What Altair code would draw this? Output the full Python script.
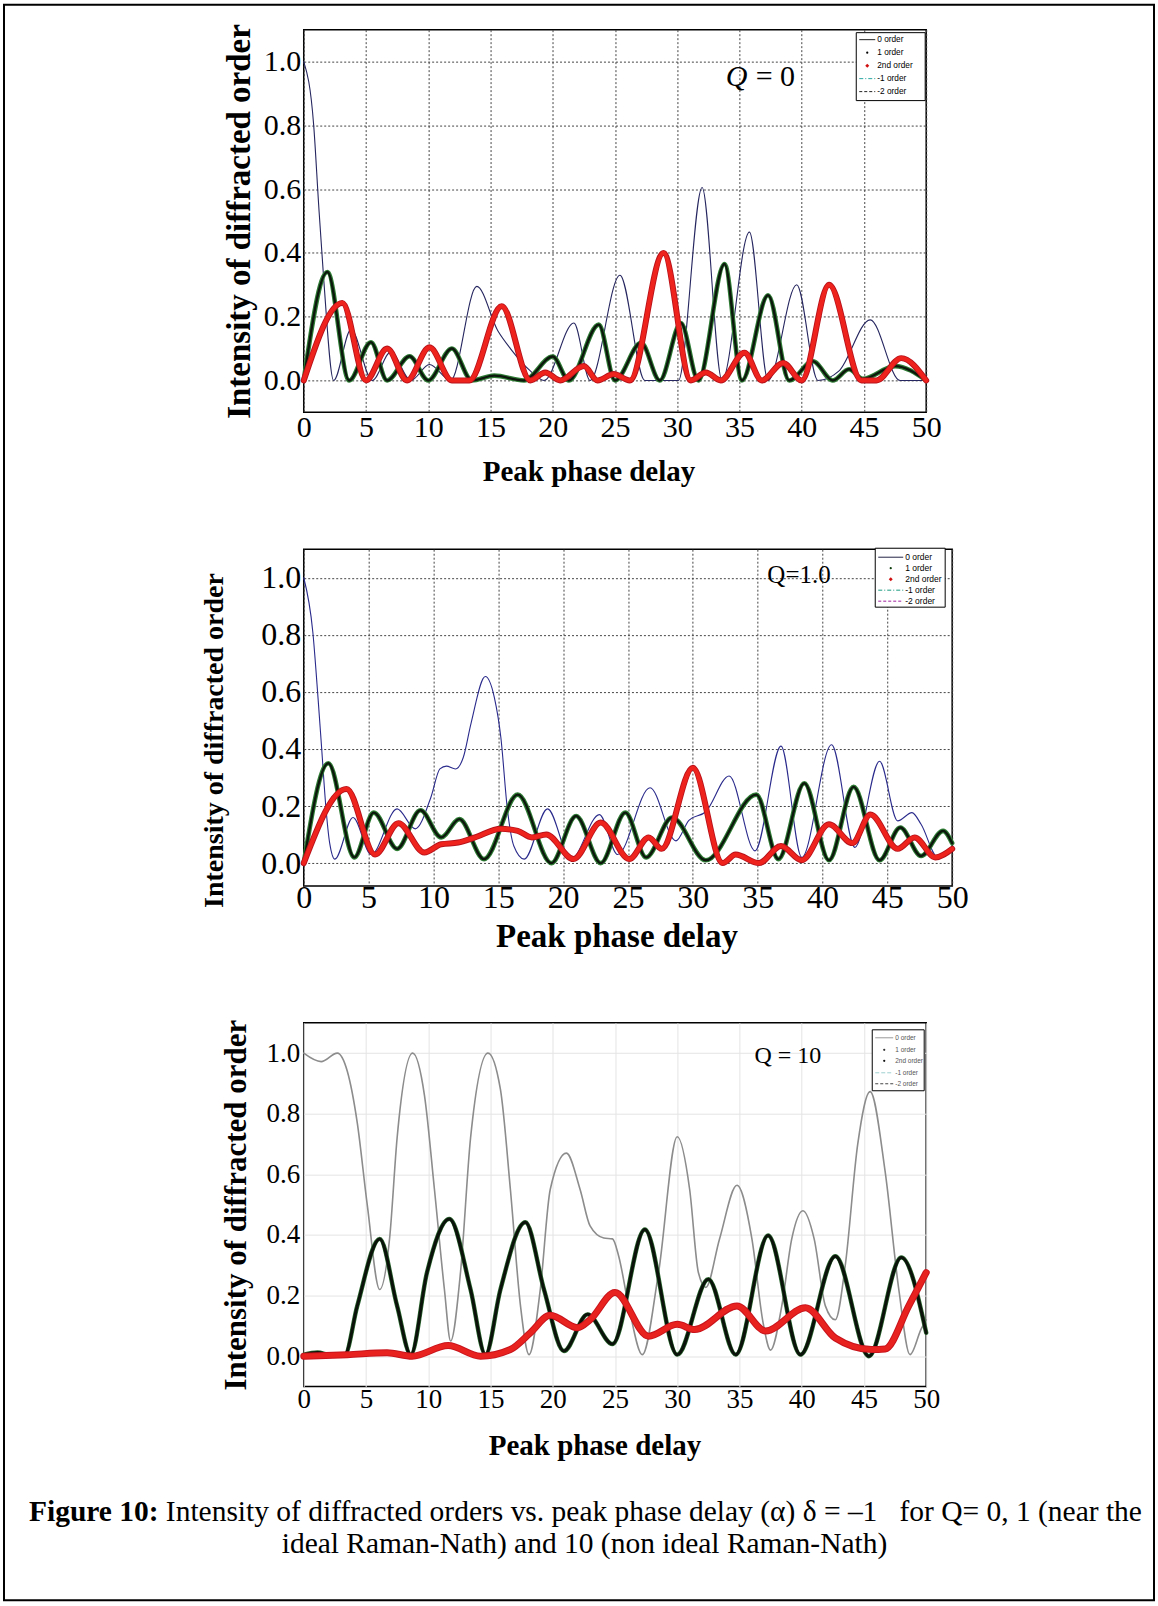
import altair as alt
import pandas as pd

SERIF = "Liberation Serif"
SANS = "Liberation Sans"

X_TICKS = [0, 5, 10, 15, 20, 25, 30, 35, 40, 45, 50]
Y_TICKS = [0.0, 0.2, 0.4, 0.6, 0.8, 1.0]
X_TITLE = "Peak phase delay"
Y_TITLE = "Intensity of diffracted order"
LEGEND_LABELS = ["0 order", "1 order", "2nd order", "-1 order", "-2 order"]
CAPTION_BOLD = "Figure 10:"
CAPTION_LINE1 = "Intensity of diffracted orders vs. peak phase delay (\u03b1) \u03b4 = \u20131\u00a0\u00a0\u00a0for Q= 0, 1 (near the"
CAPTION_LINE2 = "ideal Raman-Nath) and 10 (non ideal Raman-Nath)"

# ---------------- Panel 1 : Q = 0 ----------------
P1_O0_X = [0, 0.8, 1.2, 1.6, 2.4, 3.8, 5.5, 7.0, 8.6, 10.1, 11.8, 13.9, 15.6, 16.6, 18.2, 19.3, 21.7, 23.0, 25.4, 27.4,
           30.1, 32.0, 33.6, 35.8, 37.3, 39.6, 41.3, 43.0, 45.5, 47.9, 50]
P1_O0_Y = [1.0, 0.80, 0.55, 0.32, 0.0, 0.16, 0.0, 0.09, 0.0, 0.05, 0.0, 0.295, 0.155, 0.10, 0.03, 0.0, 0.18, 0.0, 0.33, 0.0,
           0.0, 0.605, 0.0, 0.465, 0.0, 0.30, 0.0, 0.03, 0.19, 0.0, 0.0]
P1_O1_X = [0, 1.9, 3.65, 5.4, 6.7, 8.5, 10.0, 11.9, 13.5, 15.3, 17.7, 20.0, 21.3, 23.7, 25.0, 27.1, 28.6, 30.3, 31.7, 33.8,
           35.2, 37.3, 39.0, 40.9, 42.5, 43.8, 44.9, 47.5, 50]
P1_O1_Y = [0, 0.34, 0.0, 0.12, 0.0, 0.076, 0.0, 0.10, 0.0, 0.015, 0.0, 0.075, 0.0, 0.175, 0.0, 0.118, 0.0, 0.18, 0.0, 0.365,
           0.0, 0.267, 0.0, 0.06, 0.0, 0.035, 0.005, 0.045, 0.0]
P1_O2_X = [0, 3.1, 5.0, 6.7, 8.3, 10.1, 11.9, 13.3, 15.9, 18.2, 19.4, 20.6, 22.5, 23.6, 24.9, 26.2, 28.9, 31.1, 32.3, 33.5,
           35.4, 36.8, 38.5, 40.0, 42.2, 44.8, 46.0, 48.0, 50]
P1_O2_Y = [0, 0.243, 0.0, 0.10, 0.0, 0.104, 0.0, 0.0, 0.233, 0.0, 0.025, 0.0, 0.045, 0.0, 0.02, 0.0, 0.40, 0.0, 0.025, 0.0,
           0.087, 0.0, 0.055, 0.0, 0.30, 0.0, 0.0, 0.07, 0.0]

# ---------------- Panel 2 : Q = 1.0 ----------------
P2_O0_X = [0, 0.7, 1.1, 1.4, 1.7, 2.0, 2.4, 3.8, 5.2, 7.2, 8.6, 9.8, 10.5, 11.0, 11.7, 12.3, 12.9, 14.0, 14.7, 15.2,
           15.7, 16.2, 17.0, 18.8, 20.6, 22.8, 24.2, 26.7, 28.7, 29.7, 31.0, 32.8, 34.8, 36.8, 38.4, 40.7, 42.5, 44.4,
           45.8, 46.9, 47.6, 48.9, 50]
P2_O0_Y = [1.0, 0.81, 0.58, 0.39, 0.2, 0.07, 0.014, 0.16, 0.03, 0.19, 0.12, 0.23, 0.33, 0.34, 0.33, 0.37, 0.49, 0.654,
           0.58, 0.44, 0.19, 0.06, 0.014, 0.19, 0.014, 0.17, 0.03, 0.264, 0.078, 0.15, 0.18, 0.305, 0.043, 0.41, 0.02,
           0.415, 0.055, 0.357, 0.148, 0.177, 0.136, 0.02, 0.05]
P2_O1_X = [0, 1.9, 3.9, 5.4, 7.2, 9.0, 10.6, 12.0, 13.9, 16.5, 19.1, 21.0, 22.9, 24.8, 26.4, 28.4, 31.0, 34.9, 36.6,
           38.6, 40.5, 42.4, 44.4, 46.0, 47.6, 49.3, 50]
P2_O1_Y = [0, 0.35, 0.02, 0.177, 0.05, 0.185, 0.09, 0.154, 0.014, 0.24, 0.0, 0.165, 0.0, 0.177, 0.02, 0.16, 0.01, 0.24,
           0.014, 0.28, 0.01, 0.267, 0.01, 0.125, 0.025, 0.113, 0.07]
P2_O2_X = [0, 3.3, 5.5, 7.3, 9.3, 10.6, 11.9, 13.2, 15.2, 16.5, 17.6, 18.7, 20.8, 22.9, 25.1, 26.6, 27.6, 30.0, 32.3,
           33.3, 35.1, 36.8, 38.4, 40.5, 42.3, 43.7, 45.8, 47.1, 48.7, 50]
P2_O2_Y = [0, 0.26, 0.03, 0.14, 0.037, 0.066, 0.072, 0.09, 0.12, 0.113, 0.09, 0.10, 0.014, 0.142, 0.014, 0.09, 0.05,
           0.334, 0.0, 0.03, 0.0, 0.06, 0.01, 0.136, 0.07, 0.17, 0.05, 0.09, 0.02, 0.05]

# ---------------- Panel 3 : Q = 10 ----------------
P3_O0_X = [0, 1.4, 2.7, 3.5, 4.3, 5.1, 6.1, 6.9, 7.5, 8.75, 9.7, 10.5, 11.3, 11.8, 12.6, 13.4, 14.8, 15.8, 16.6, 17.4,
           18.1, 19.0, 19.8, 21.1, 22.2, 23.0, 24.1, 24.8, 25.3, 26.1, 27.2, 28.5, 30.0, 31.0, 31.7, 32.3, 33.4, 34.8,
           36.0, 36.9, 37.5, 38.4, 39.2, 40.1, 41.0, 41.9, 42.7, 43.5, 44.5, 45.5, 46.7, 47.8, 48.7, 49.6, 50]
P3_O0_Y = [1.0, 0.972, 1.0, 0.94, 0.77, 0.50, 0.22, 0.39, 0.72, 1.0, 0.86, 0.55, 0.22, 0.05, 0.28, 0.72, 1.0, 0.88,
           0.55, 0.17, 0.005, 0.22, 0.55, 0.67, 0.55, 0.43, 0.39, 0.387, 0.33, 0.166, 0.005, 0.276, 0.724, 0.55, 0.276,
           0.227, 0.387, 0.564, 0.387, 0.11, 0.02, 0.166, 0.387, 0.48, 0.387, 0.166, 0.12, 0.3, 0.7, 0.873, 0.61, 0.22,
           0.005, 0.09, 0.12]
P3_O1_X = [0, 1.1, 2.2, 3.3, 4.3, 6.1, 7.5, 8.6, 9.9, 11.7, 13.4, 14.6, 15.8, 17.8, 19.3, 20.9, 22.8, 24.8, 27.4, 30.0,
           32.5, 34.7, 37.3, 39.9, 42.7, 45.4, 48.0, 50]
P3_O1_Y = [0.005, 0.012, 0.004, 0.005, 0.166, 0.387, 0.166, 0.005, 0.276, 0.453, 0.22, 0.005, 0.22, 0.442, 0.22, 0.017,
           0.138, 0.04, 0.418, 0.005, 0.254, 0.005, 0.398, 0.005, 0.33, 0.0, 0.326, 0.077]
P3_O2_X = [0, 3.5, 6.7, 8.7, 11.6, 14.2, 16.6, 18.2, 19.8, 22.0, 23.0, 25.0, 27.7, 30.0, 31.4, 34.8, 37.1, 40.3, 42.7,
           45.6, 46.7, 48.6, 50]
P3_O2_Y = [0, 0.005, 0.011, 0.0, 0.035, 0.0, 0.022, 0.077, 0.135, 0.094, 0.12, 0.21, 0.066, 0.105, 0.088, 0.166, 0.083,
           0.16, 0.06, 0.022, 0.024, 0.166, 0.276]

ONE = pd.DataFrame({"k": [0]})


def px_rule(x1, x2, y, color, width=1.0, dash=None):
    kw = dict(color=color, strokeWidth=width)
    if dash:
        kw["strokeDash"] = dash
    return alt.Chart(ONE).mark_rule(**kw).encode(x=alt.value(x1), x2=alt.value(x2), y=alt.value(y))


def px_point(x, y, color, shape, size):
    return alt.Chart(ONE).mark_point(filled=True, shape=shape, size=size, color=color, opacity=1).encode(
        x=alt.value(x), y=alt.value(y))


def px_text(x, y, text, size, font=SERIF, weight="normal", style="normal", align="left", color="black"):
    return alt.Chart(pd.DataFrame({"t": [text]})).mark_text(
        align=align, baseline="middle", font=font, fontSize=size, fontWeight=weight, fontStyle=style, color=color
    ).encode(x=alt.value(x), y=alt.value(y), text="t:N")


def px_rect(x1, x2, y1, y2, stroke, width, fill="white", fill_opacity=1.0):
    return alt.Chart(ONE).mark_rect(fill=fill, fillOpacity=fill_opacity, stroke=stroke, strokeWidth=width).encode(
        x=alt.value(x1), x2=alt.value(x2), y=alt.value(y1), y2=alt.value(y2))


def legend(x1, x2, y1, y2, rows, sx1, sx2, tx, fsize, styles, text_color="black"):
    layers = [px_rect(x1, x2, y1, y2, "black", 1)]
    mid = (sx1 + sx2) / 2
    for label, (kind, color, dash), y in zip(LEGEND_LABELS, styles, rows):
        if kind == "line":
            layers.append(px_rule(sx1, sx2, y, color, 1, dash))
        elif kind == "dot":
            layers.append(px_point(mid, y, color, "circle", 5))
        elif kind == "star":
            layers.append(px_point(mid, y, color, "diamond", 16))
        layers.append(px_text(tx, y, label, fsize, font=SANS, color=text_color))
    return layers


def axes(xlab, xtitle, xlabpad, xext, xtitlepad, xtitlex, ylab, ytitle, ylabpad, yext, ytitlepad,
         grid_color, grid_dash, ytitley=None):
    gx = dict(grid=True, gridColor=grid_color, gridWidth=1, gridOpacity=1)
    if grid_dash:
        gx["gridDash"] = grid_dash
    common = dict(ticks=False, tickSize=0, domain=False, labelFont=SERIF, labelColor="black", labelFlush=False,
                  labelOverlap=False, titleFont=SERIF, titleFontWeight="bold", titleColor="black", **gx)
    ax_x = dict(values=X_TICKS, title=X_TITLE, labelFontSize=xlab, labelPadding=xlabpad, labelAngle=0,
                titleFontSize=xtitle, titlePadding=xtitlepad, minExtent=xext, maxExtent=xext, titleX=xtitlex,
                **common)
    ax_y = dict(values=Y_TICKS, format=".1f", title=Y_TITLE, labelFontSize=ylab, labelPadding=ylabpad,
                titleFontSize=ytitle, titlePadding=ytitlepad, minExtent=yext, maxExtent=yext, **common)
    if ytitley is not None:
        ax_y["titleY"] = ytitley
    return alt.Axis(**ax_x), alt.Axis(**ax_y)


def panel(curves, notes, width, height, ydomain, ax_x, ax_y, extra):
    xsc = alt.Scale(domain=[0, 50], nice=False, zero=False)
    ysc = alt.Scale(domain=ydomain, nice=False, zero=False)
    enc = dict(x=alt.X("phase:Q", scale=xsc, axis=ax_x), y=alt.Y("intensity:Q", scale=ysc, axis=ax_y))
    layers = []
    for xs, ys, strokes in curves:
        df = pd.DataFrame({"phase": xs, "intensity": ys})
        for color, w in strokes:
            layers.append(alt.Chart(df).mark_line(color=color, strokeWidth=w, interpolate="monotone",
                                                  strokeCap="round", strokeJoin="round").encode(**enc))
    for text, x, y, size, style in notes:
        df = pd.DataFrame({"phase": [x], "intensity": [y], "t": [text]})
        layers.append(alt.Chart(df).mark_text(align="left", baseline="middle", font=SERIF, fontSize=size,
                                              fontStyle=style, color="black").encode(text="t:N", **enc))
    layers += extra
    return alt.layer(*layers).properties(width=width, height=height)


GREEN = [("#2f7d35", 4.6), ("#0c180c", 2.4)]
RED = [("#b8121a", 6.0), ("#ee231e", 4.2)]

# ---- Panel 1
ax1x, ax1y = axes(30, 29, 0, 30, 15, 285, 30, 33, 3, 40, 7, "#444444", [2, 2])
leg1 = legend(553, 622, 3, 71, [10, 23, 36, 49, 62], 556, 572, 574, 8.3,
              [("line", "#222222", None), ("dot", "black", None), ("star", "#d01010", None),
               ("line", "#2aa6a0", [4, 2, 1, 2]), ("line", "#222222", [3, 2])])
border = [px_rect(-300, 851, -25, 1572, "black", 2, fill="white", fill_opacity=0)]
p1 = panel(
    [(P1_O0_X, P1_O0_Y, [("#262660", 1.1)]), (P1_O1_X, P1_O1_Y, GREEN), (P1_O2_X, P1_O2_Y, RED)],
    [("Q", 33.9, 0.953, 30, "italic"), ("= 0", 36.3, 0.953, 30, "normal")],
    623, 383, [-0.1, 1.1], ax1x, ax1y, leg1 + border)

# ---- Panel 2
ax2x, ax2y = axes(32, 33, -3, 30, 4.5, 313, 32, 28, 3, 42, 33, "#444444", [2, 2], ytitley=191)
leg2 = legend(572, 642, -1, 58, [8, 19, 30, 41, 52], 575, 600, 602, 8.5,
              [("line", "#222244", None), ("dot", "#0a3a0a", None), ("star", "#d01010", None),
               ("line", "#1a9a80", [4, 2, 1, 2]), ("line", "#a020a0", [3, 2])])
p2 = panel(
    [(P2_O0_X, P2_O0_Y, [("#2a2a8c", 1.1)]), (P2_O1_X, P2_O1_Y, GREEN), (P2_O2_X, P2_O2_Y, RED)],
    [("Q=1.0", 35.75, 1.009, 25, "normal")],
    649, 337, [-0.08, 1.1], ax2x, ax2y, leg2)

# ---- Panel 3
ax3x, ax3y = axes(27, 29, 0, 28, 17, 291, 27, 31, 4, 38, 13.5, "#e4e4e4", None)
leg3 = legend(569, 621, 7, 68, [15, 27, 38, 50, 61], 572, 590, 592, 6.5,
              [("line", "#999999", None), ("dot", "#333333", None), ("dot", "#111111", None),
               ("line", "#9fd0d0", [4, 2]), ("line", "#444444", [3, 2])], text_color="#555555")
caption = [
    px_text(-275, 490, CAPTION_BOLD, 29.5, weight="bold"),
    px_text(-138, 490, CAPTION_LINE1, 29.5),
    px_text(281, 522, CAPTION_LINE2, 29.5, align="center"),
]
p3 = panel(
    [(P3_O0_X, P3_O0_Y, [("#8c8c8c", 1.6)]),
     (P3_O1_X, P3_O1_Y, [("#2e6b32", 4.4), ("#0a120a", 3.0)]),
     (P3_O2_X, P3_O2_Y, [("#c8141c", 7.0), ("#e8221f", 5.0)])],
    [("Q = 10", 36.2, 0.99, 24, "normal")],
    623, 364, [-0.1, 1.1], ax3x, ax3y, leg3 + caption)

chart = alt.vconcat(p1, p2, p3, spacing=137, bounds="flush").properties(
    padding={"left": 2, "top": 2, "right": 2, "bottom": 2}, background="white"
).configure_view(stroke="black", strokeWidth=1.5)

chart.save("out.html", embed_options={"renderer": "svg", "actions": False})
